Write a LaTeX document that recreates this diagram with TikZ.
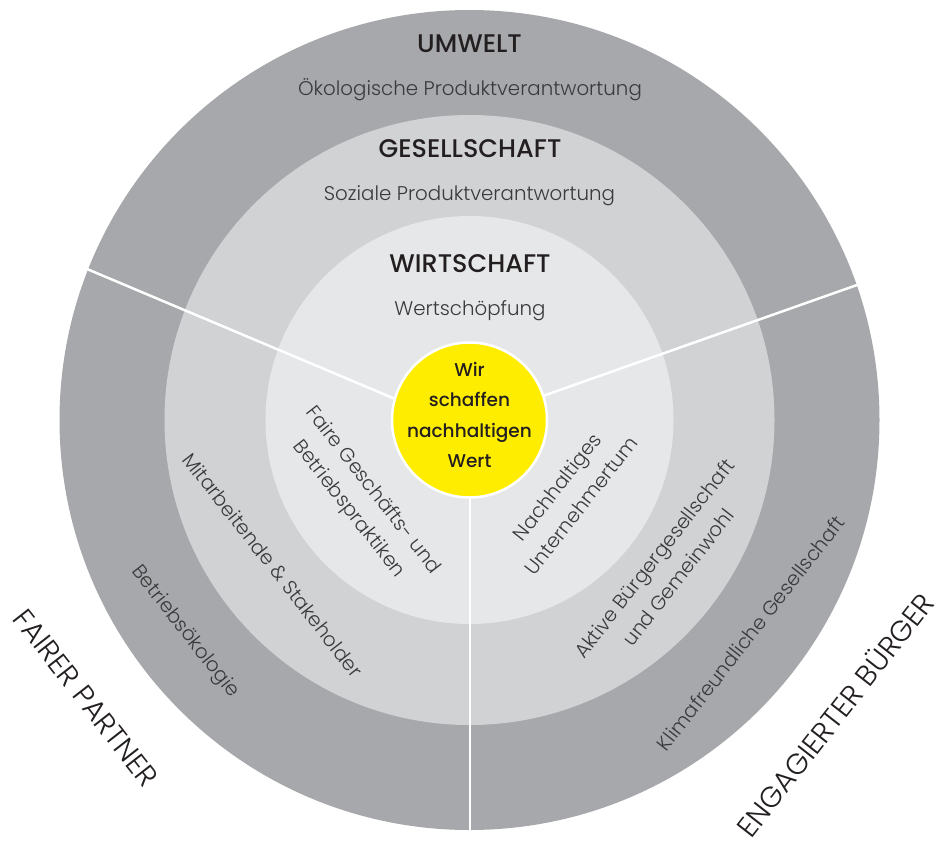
\documentclass[tikz,border=0pt]{standalone}
\usepackage{fontspec}
\setmainfont{Poppins}[UprightFont={* Light}, BoldFont={* Medium}]
\definecolor{ringA}{HTML}{A7A8AB}
\definecolor{ringB}{HTML}{D1D2D4}
\definecolor{ringC}{HTML}{E6E7E8}
\definecolor{coreY}{HTML}{FFED00}
\definecolor{ink}{HTML}{231F20}
\definecolor{inkL}{HTML}{3A3A3C}
\tikzset{
  head/.style={text=ink, font=\fontsize{25.5}{30}\selectfont\bfseries, anchor=base, inner sep=0pt},
  sub/.style={text=inkL, font=\fontsize{19.8}{24}\selectfont, anchor=base, inner sep=0pt},
  ringtxt/.style={text=inkL, font=\fontsize{19.8}{30.5}\selectfont, align=center, inner sep=0pt},
  sidetxt/.style={text=ink, font=\fontsize{29}{34}\selectfont, inner sep=0pt},
  divider/.style={white, line width=2.5pt},
  coretext/.style={text=ink, font=\fontsize{18.5}{30.5}\selectfont\bfseries, align=center, inner sep=0pt}
}
\begin{document}
\begin{tikzpicture}[x=1pt,y=-1pt]
\useasboundingbox (0,0) rectangle (945,847);
% rings
\fill[ringA] (469.5,420) circle[radius=410pt];
\fill[ringB] (469.5,420) circle[radius=305pt];
\fill[ringC] (469.5,420) circle[radius=204pt];
% dividers
\coordinate (lout) at (87,269);
\coordinate (lin) at (400,401);
\coordinate (rout) at (857,285);
\coordinate (rin) at (540,397);
\coordinate (bout) at (470,831);
\coordinate (bin) at (470,490);
\draw[divider] (lout) -- (lin);
\draw[divider] (rout) -- (rin);
\draw[divider] (bout) -- (bin);
% core
\node[circle, fill=coreY, draw=white, line width=2.5pt, minimum size=155pt, inner sep=0pt] (core) at (469.5,420) {};
\node[coretext] (coretxt) at (469.5,415) {Wir\\schaffen\\nachhaltigen\\Wert};
% top labels
\node[head] (umwelt) at (469.5,52) {UMWELT};
\node[sub] (umweltsub) at (470,95) {Ökologische Produktverantwortung};
\node[head] (gesell) at (470,157) {GESELLSCHAFT};
\node[sub] (gesellsub) at (469.5,200) {Soziale Produktverantwortung};
\node[head] (wirt) at (470,272) {WIRTSCHAFT};
\node[sub] (wirtsub) at (470,315) {Wertschöpfung};
% left sector
\node[ringtxt, rotate=-52] (faire) at (360.5,500) {Faire Geschäfts- und\\Betriebspraktiken};
\node[ringtxt, rotate=-52] (mitarb) at (273,565) {Mitarbeitende \& Stakeholder};
\node[ringtxt, rotate=-52] (betroek) at (185,632) {Betriebsökologie};
\node[sidetxt, rotate=-52] (fairer) at (86,698) {FAIRER PARTNER};
% right sector
\node[ringtxt, rotate=52] (nachh) at (569,496) {Nachhaltiges\\Unternehmertum};
\node[ringtxt, rotate=52] (aktive) at (666,568) {Aktive Bürgergesellschaft\\und Gemeinwohl};
\node[ringtxt, rotate=52] (klima) at (750.5,633) {Klimafreundliche Gesellschaft};
\node[sidetxt, rotate=52] (engag) at (834,714) {ENGAGIERTER BÜRGER};
\end{tikzpicture}
\end{document}
